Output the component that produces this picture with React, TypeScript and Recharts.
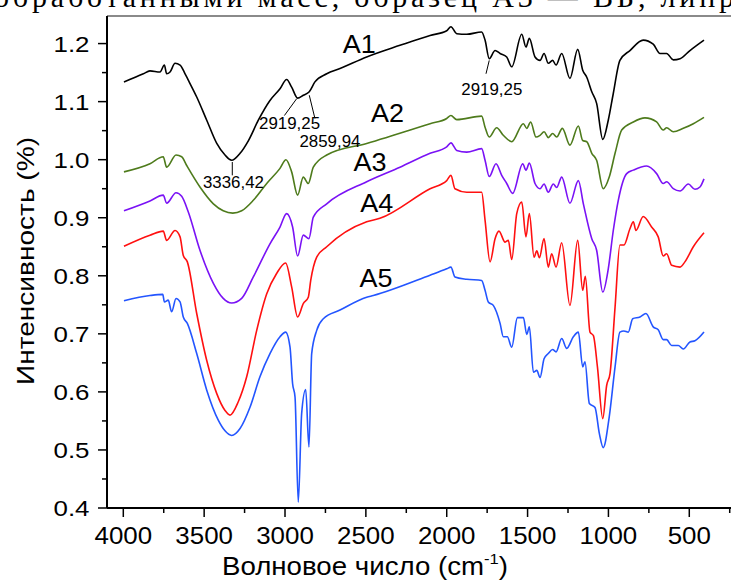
import { LineChart, Line, XAxis, YAxis, ReferenceLine, ReferenceDot } from "recharts";

// [wavenumber cm-1, intensity]
const A1: [number, number][] = [
  [3996, 1.134], [3876, 1.148], [3835, 1.153], [3773, 1.151], [3746, 1.163], [3732, 1.148], [3711, 1.151],
  [3680, 1.166], [3649, 1.163], [3618, 1.148], [3598, 1.137], [3546, 1.108], [3484, 1.068], [3422, 1.028],
  [3371, 1.008], [3330, 0.999], [3278, 1.011], [3226, 1.033], [3165, 1.068], [3093, 1.102], [3031, 1.122],
  [2990, 1.138], [2959, 1.125], [2922, 1.106], [2887, 1.111], [2850, 1.117], [2815, 1.134], [2742, 1.148],
  [2660, 1.157], [2495, 1.177], [2289, 1.197], [2103, 1.214], [2000, 1.222], [1974, 1.229], [1938, 1.217],
  [1876, 1.216], [1784, 1.22], [1763, 1.206], [1737, 1.174], [1701, 1.188], [1670, 1.183], [1629, 1.177],
  [1598, 1.16], [1536, 1.216], [1510, 1.194], [1489, 1.209], [1454, 1.177], [1423, 1.171], [1398, 1.183],
  [1372, 1.166], [1345, 1.171], [1324, 1.163], [1289, 1.183], [1238, 1.14], [1190, 1.19], [1159, 1.154],
  [1134, 1.142], [1103, 1.117], [1073, 1.097], [1035, 1.035], [1001, 1.068], [970, 1.114], [929, 1.171],
  [867, 1.188], [785, 1.206], [723, 1.199], [681, 1.183], [640, 1.183], [599, 1.172], [557, 1.174],
  [496, 1.188], [409, 1.206],
];

const A2: [number, number][] = [
  [3996, 0.979], [3835, 0.993], [3753, 1.005], [3732, 0.987], [3674, 1.008], [3639, 1.005], [3608, 0.99],
  [3526, 0.953], [3443, 0.924], [3382, 0.912], [3323, 0.908], [3268, 0.912], [3196, 0.93], [3113, 0.959],
  [3031, 0.985], [2994, 1.0], [2959, 0.979], [2922, 0.939], [2887, 0.97], [2856, 0.959], [2825, 0.987],
  [2742, 1.008], [2495, 1.028], [2103, 1.062], [2000, 1.071], [1974, 1.076], [1938, 1.069], [1784, 1.075],
  [1763, 1.056], [1737, 1.039], [1691, 1.055], [1650, 1.042], [1598, 1.031], [1526, 1.062], [1505, 1.054],
  [1481, 1.065], [1448, 1.039], [1423, 1.042], [1398, 1.048], [1372, 1.038], [1345, 1.045], [1320, 1.039],
  [1285, 1.054], [1238, 1.025], [1186, 1.058], [1159, 1.033], [1134, 1.031], [1103, 1.011], [1073, 0.999],
  [1032, 0.95], [995, 0.97], [959, 1.011], [918, 1.051], [846, 1.065], [774, 1.072], [702, 1.065],
  [661, 1.051], [640, 1.055], [599, 1.048], [537, 1.054], [475, 1.062], [409, 1.073],
];

const A3: [number, number][] = [
  [3996, 0.912], [3835, 0.929], [3753, 0.939], [3732, 0.925], [3674, 0.943], [3639, 0.937], [3598, 0.91],
  [3526, 0.844], [3443, 0.787], [3382, 0.761], [3330, 0.753], [3268, 0.761], [3196, 0.798], [3093, 0.855],
  [3031, 0.884], [2990, 0.907], [2953, 0.884], [2922, 0.834], [2887, 0.87], [2852, 0.864], [2825, 0.901],
  [2742, 0.924], [2495, 0.962], [2289, 0.987], [2103, 1.011], [2000, 1.022], [1974, 1.029], [1938, 1.016],
  [1876, 1.013], [1784, 1.019], [1763, 0.999], [1737, 0.971], [1695, 0.993], [1660, 0.973], [1629, 0.959],
  [1592, 0.942], [1530, 0.993], [1510, 0.982], [1489, 0.994], [1454, 0.959], [1423, 0.95], [1398, 0.958],
  [1372, 0.944], [1341, 0.958], [1320, 0.952], [1289, 0.97], [1238, 0.925], [1186, 0.964], [1155, 0.924],
  [1103, 0.864], [1073, 0.844], [1035, 0.772], [1001, 0.812], [970, 0.878], [939, 0.93], [887, 0.976],
  [846, 0.982], [764, 0.989], [702, 0.976], [661, 0.959], [640, 0.962], [599, 0.95], [557, 0.946],
  [506, 0.958], [465, 0.949], [434, 0.953], [409, 0.967],
];

const A4: [number, number][] = [
  [3996, 0.851], [3835, 0.87], [3753, 0.877], [3732, 0.861], [3680, 0.878], [3649, 0.867], [3629, 0.835],
  [3604, 0.824], [3546, 0.735], [3484, 0.654], [3422, 0.597], [3371, 0.568], [3340, 0.56], [3289, 0.583],
  [3237, 0.626], [3175, 0.706], [3113, 0.769], [3052, 0.804], [2996, 0.822], [2959, 0.781], [2922, 0.729],
  [2887, 0.752], [2856, 0.763], [2841, 0.792], [2804, 0.832], [2742, 0.85], [2495, 0.893], [2413, 0.899],
  [2103, 0.95], [2000, 0.964], [1974, 0.973], [1949, 0.95], [1876, 0.944], [1784, 0.944], [1763, 0.896],
  [1732, 0.824], [1701, 0.864], [1677, 0.877], [1639, 0.858], [1619, 0.861], [1598, 0.828], [1567, 0.907],
  [1536, 0.927], [1510, 0.867], [1489, 0.907], [1460, 0.832], [1443, 0.843], [1427, 0.831], [1398, 0.864],
  [1372, 0.815], [1351, 0.838], [1324, 0.815], [1289, 0.857], [1238, 0.749], [1190, 0.861], [1159, 0.775],
  [1143, 0.799], [1114, 0.703], [1093, 0.697], [1068, 0.643], [1035, 0.554], [1011, 0.611], [990, 0.632],
  [959, 0.746], [929, 0.853], [904, 0.853], [867, 0.881], [846, 0.893], [830, 0.878], [785, 0.902],
  [733, 0.884], [692, 0.867], [661, 0.834], [640, 0.838], [609, 0.818], [557, 0.815], [527, 0.824],
  [475, 0.85], [409, 0.874],
];

const A5: [number, number][] = [
  [3996, 0.757], [3835, 0.766], [3756, 0.768], [3746, 0.755], [3722, 0.758], [3701, 0.738], [3674, 0.761],
  [3649, 0.755], [3629, 0.729], [3604, 0.718], [3546, 0.666], [3484, 0.603], [3412, 0.551], [3371, 0.533],
  [3330, 0.525], [3278, 0.537], [3216, 0.574], [3155, 0.626], [3093, 0.666], [3031, 0.695], [2996, 0.703],
  [2969, 0.677], [2953, 0.614], [2938, 0.591], [2918, 0.41], [2897, 0.563], [2872, 0.604], [2852, 0.505],
  [2835, 0.666], [2804, 0.706], [2763, 0.726], [2660, 0.741], [2495, 0.763], [2454, 0.766], [2103, 0.801],
  [2000, 0.812], [1974, 0.815], [1949, 0.798], [1876, 0.794], [1784, 0.792], [1763, 0.775], [1743, 0.755],
  [1712, 0.749], [1670, 0.718], [1650, 0.695], [1625, 0.695], [1598, 0.677], [1563, 0.728], [1526, 0.728],
  [1505, 0.699], [1489, 0.712], [1464, 0.634], [1443, 0.637], [1423, 0.625], [1398, 0.657], [1372, 0.666],
  [1345, 0.673], [1324, 0.669], [1289, 0.692], [1258, 0.675], [1217, 0.695], [1186, 0.703], [1159, 0.643],
  [1145, 0.652], [1118, 0.58], [1083, 0.573], [1056, 0.528], [1032, 0.504], [995, 0.557], [959, 0.643],
  [929, 0.703], [904, 0.705], [877, 0.703], [850, 0.726], [805, 0.729], [768, 0.735], [723, 0.712],
  [692, 0.707], [661, 0.69], [640, 0.69], [609, 0.68], [568, 0.68], [537, 0.674], [496, 0.686],
  [465, 0.688], [409, 0.703],
];

const SERIES = [
  { name: "A1", points: A1, color: "#000000", label: [2541, 1.183] },
  { name: "A2", points: A2, color: "#4e7b1c", label: [2366, 1.065] },
  { name: "A3", points: A3, color: "#7a12f5", label: [2474, 0.981] },
  { name: "A4", points: A4, color: "#ff1010", label: [2433, 0.91] },
  { name: "A5", points: A5, color: "#2355ff", label: [2437, 0.78] },
];

// peak callouts: text, leader line ends, text anchor
const PEAKS = [
  { text: "3336,42", from: [3326, 0.996], to: [3326, 0.973], at: [3319, 0.952] },
  { text: "2919,25", from: [2928, 1.105], to: [3004, 1.076], at: [2972, 1.052] },
  { text: "2859,94", from: [2850, 1.111], to: [2815, 1.071], at: [2722, 1.021] },
  { text: "2919,25", from: [1737, 1.171], to: [1757, 1.148], at: [1721, 1.112] },
];

const X_TICKS = [4000, 3750, 3500, 3250, 3000, 2750, 2500, 2250, 2000, 1750, 1500, 1250, 1000, 750, 500, 250];
const Y_TICKS = [0.4, 0.45, 0.5, 0.55, 0.6, 0.65, 0.7, 0.75, 0.8, 0.85, 0.9, 0.95, 1.0, 1.05, 1.1, 1.15, 1.2];

const FONT = "'Liberation Sans', Arial, sans-serif";

function XTick({ x, y, payload }: any) {
  const v = payload.value;
  const major = v % 500 === 0;
  return (
    <g>
      <line x1={x} y1={y} x2={x} y2={y + (major ? 9 : 5)} stroke="#000" strokeWidth={1.5} />
      {major && (
        <text x={x} y={y + 36} textAnchor="middle" fontSize={23} fontFamily={FONT} fill="#000"
          textLength={String(v).length * 14.4} lengthAdjust="spacingAndGlyphs">{v}</text>
      )}
    </g>
  );
}

function YTick({ x, y, payload }: any) {
  const v = payload.value;
  const major = Math.round(v * 100) % 10 === 0;
  return (
    <g>
      <line x1={x - (major ? 9 : 5)} y1={y} x2={x} y2={y} stroke="#000" strokeWidth={1.5} />
      {major && (
        <text x={x - 17.5} y={y + 8} textAnchor="end" fontSize={22} fontFamily={FONT} fill="#000"
          textLength={36} lengthAdjust="spacingAndGlyphs">{v.toFixed(1)}</text>
      )}
    </g>
  );
}

const textShape = (text: string, size: number, width: number) => (p: any) => (
  <text x={p.cx} y={p.cy} textAnchor="middle" fontSize={size} fontFamily={FONT} fill="#000"
    textLength={width} lengthAdjust="spacingAndGlyphs">{text}</text>
);

export default function App() {
  return (
    <div style={{ position: "absolute", left: 0, top: 0, width: 731, height: 581, overflow: "hidden", background: "#fff" }}>
      <svg width={731} height={581} style={{ position: "absolute", left: 0, top: 0 }}>
        <text x={-6} y={7} fontSize={30} fontFamily="'Liberation Serif', 'Times New Roman', serif" fill="#000"
          textLength={760} lengthAdjust="spacing">обработанными масс, образец А3 — ВБ, липри</text>
        <text transform="translate(34,261) rotate(-90)" textAnchor="middle" fontSize={24} fontFamily={FONT}
          fill="#000" textLength={248} lengthAdjust="spacingAndGlyphs">Интенсивность (%)</text>
        <text x={222} y={575} fontSize={25} fontFamily={FONT} fill="#000" textLength={286} lengthAdjust="spacingAndGlyphs">
          Волновое число (cm<tspan fontSize={15} dy={-11}>-1</tspan><tspan dy={11}>)</tspan>
        </text>
      </svg>
      <div style={{ position: "absolute", left: 0, top: 0 }}>
        <LineChart width={780} height={581} margin={{ top: 16, right: 20, bottom: 0, left: 0 }}>
          <XAxis type="number" dataKey="x" domain={[62.7, 4100.8]} reversed allowDataOverflow ticks={X_TICKS}
            interval={0} tick={<XTick />} tickLine={false} tickSize={0} tickMargin={0} height={73}
            axisLine={{ stroke: "#000", strokeWidth: 2 }} />
          <YAxis type="number" domain={[0.4, 1.2475]} allowDataOverflow ticks={Y_TICKS} interval={0}
            tick={<YTick />} tickLine={false} tickSize={0} tickMargin={0} width={107}
            axisLine={{ stroke: "#000", strokeWidth: 2 }} />
          <ReferenceLine y={1.2475} stroke="#8a8a8a" strokeWidth={2} />
          {SERIES.map((s) => (
            <Line key={s.name} data={s.points.map(([x, y]) => ({ x, y }))} dataKey="y" type="monotone"
              stroke={s.color} strokeWidth={1.6} dot={false} isAnimationActive={false} />
          ))}
          {SERIES.map((s) => (
            <ReferenceDot key={"l" + s.name} x={s.label[0]} y={s.label[1]} r={0} ifOverflow="visible"
              shape={textShape(s.name, 25, 33)} />
          ))}
          {PEAKS.map((p, i) => (
            <ReferenceLine key={"pl" + i} segment={[{ x: p.from[0], y: p.from[1] }, { x: p.to[0], y: p.to[1] }]}
              stroke="#000" strokeWidth={1} ifOverflow="visible" />
          ))}
          {PEAKS.map((p, i) => (
            <ReferenceDot key={"pt" + i} x={p.at[0]} y={p.at[1]} r={0} ifOverflow="visible"
              shape={textShape(p.text, 17, 61)} />
          ))}
        </LineChart>
      </div>
    </div>
  );
}
